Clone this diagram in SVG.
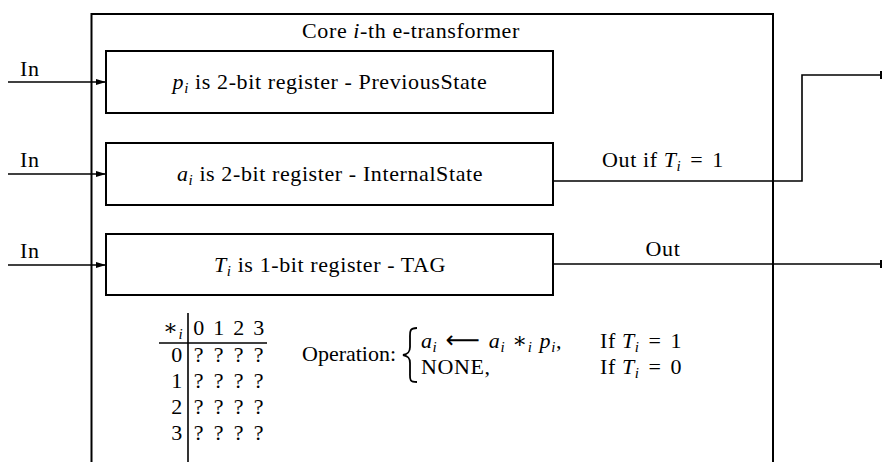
<svg xmlns="http://www.w3.org/2000/svg" width="883" height="462" viewBox="0 0 883 462">
  <defs>
    <marker id="arrow" markerWidth="10" markerHeight="8" refX="10" refY="4" orient="auto" markerUnits="userSpaceOnUse">
      <path d="M0,1 L10,4 L0,7 Z" fill="#000"/>
    </marker>
    <marker id="tick" markerWidth="4" markerHeight="10" refX="2" refY="5" orient="auto" markerUnits="userSpaceOnUse">
      <path d="M2,1 V9" stroke="#000" stroke-width="2"/>
    </marker>
  </defs>
  <style>
    text { font-family: "Liberation Serif", "DejaVu Serif", serif; font-size: 22px; letter-spacing: 0.6px; fill: #000; }
    .box { fill: none; stroke: #000; stroke-width: 2; }
    .wire { fill: none; stroke: #000; stroke-width: 1.6; }
    .rule { stroke: #000; stroke-width: 1.6; }
    .it { font-style: italic; }
    .sub { font-size: 15px; font-style: italic; }
    .sym { font-family: "DejaVu Sans", sans-serif; font-size: 24px; letter-spacing: 0; }
    .tight { letter-spacing: 0; }
    .mid { text-anchor: middle; }
    .cell { text-anchor: middle; }
  </style>
  <rect width="883" height="462" fill="#fff"/>

  <!-- outer container, open at the bottom -->
  <g id="core">
    <path class="box" d="M91.5,470 V14 H773 V470"/>
    <text class="mid" x="411" y="38">Core <tspan class="it">i</tspan>-th e-transformer</text>
  </g>

  <g id="reg-p">
    <rect class="box" x="106" y="51" width="447" height="62"/>
    <text class="mid" x="330" y="89"><tspan class="it">p</tspan><tspan class="sub" dy="4">i</tspan><tspan dy="-4"> is 2-bit register - PreviousState</tspan></text>
  </g>

  <g id="reg-a">
    <rect class="box" x="106" y="143" width="447" height="62"/>
    <text class="mid" x="330" y="181"><tspan class="it">a</tspan><tspan class="sub" dy="4">i</tspan><tspan dy="-4"> is 2-bit register - InternalState</tspan></text>
  </g>

  <g id="reg-t">
    <rect class="box" x="106" y="234" width="447" height="61"/>
    <text class="mid" x="330" y="272"><tspan class="it">T</tspan><tspan class="sub" dy="4">i</tspan><tspan dy="-4"> is 1-bit register - TAG</tspan></text>
  </g>

  <!-- wires -->
  <g id="connectors">
    <line class="wire" x1="8" y1="82" x2="106" y2="82" marker-end="url(#arrow)"/>
    <line class="wire" x1="8" y1="174" x2="106" y2="174" marker-end="url(#arrow)"/>
    <line class="wire" x1="8" y1="265" x2="106" y2="265" marker-end="url(#arrow)"/>
    <path class="wire" d="M553,181 H802 V75 H881" marker-end="url(#tick)"/>
    <line class="wire" x1="553" y1="264" x2="881" y2="264" marker-end="url(#tick)"/>
  </g>

  <g id="labels">
    <text x="20" y="76">In</text>
    <text x="20" y="167">In</text>
    <text x="20" y="258">In</text>
    <text class="mid" x="663" y="167">Out if <tspan class="it">T</tspan><tspan class="sub" dy="4">i</tspan><tspan dy="-4" dx="9">=</tspan><tspan dx="9">1</tspan></text>
    <text class="mid" x="663" y="256">Out</text>
  </g>

  <!-- operation table -->
  <g id="table">
    <line class="rule" x1="188" y1="313" x2="188" y2="462"/>
    <line class="rule" x1="159" y1="343" x2="267" y2="343"/>
    <text x="163" y="335">∗<tspan class="sub" dy="4">i</tspan></text>
    <g class="cell">
      <text x="199" y="335">0</text><text x="219" y="335">1</text><text x="239" y="335">2</text><text x="259" y="335">3</text>
      <text x="177" y="362">0</text><text x="177" y="388">1</text><text x="177" y="414">2</text><text x="177" y="440">3</text>
      <text x="199" y="362">?</text><text x="219" y="362">?</text><text x="239" y="362">?</text><text x="259" y="362">?</text>
      <text x="199" y="388">?</text><text x="219" y="388">?</text><text x="239" y="388">?</text><text x="259" y="388">?</text>
      <text x="199" y="414">?</text><text x="219" y="414">?</text><text x="239" y="414">?</text><text x="259" y="414">?</text>
      <text x="199" y="440">?</text><text x="219" y="440">?</text><text x="239" y="440">?</text><text x="259" y="440">?</text>
    </g>
  </g>

  <g id="operation">
    <text class="tight" x="302" y="361">Operation:</text>
    <path d="M417,328 C409,328 410,332 410,338 V347 C410,352 408,354 403,355 C408,356 410,358 410,363 V373 C410,379 409,382 417,382" fill="none" stroke="#000" stroke-width="1.8"/>
    <text x="421" y="348"><tspan class="it">a</tspan><tspan class="sub" dy="4">i</tspan><tspan class="sym" dy="-4" dx="8">⟵</tspan><tspan class="it" dx="9">a</tspan><tspan class="sub" dy="4">i</tspan><tspan dy="-4" dx="7">∗</tspan><tspan class="sub" dy="4">i</tspan><tspan class="it" dy="-4" dx="7">p</tspan><tspan class="sub" dy="4">i</tspan><tspan dy="-4">,</tspan></text>
    <text x="600" y="348">If <tspan class="it">T</tspan><tspan class="sub" dy="4">i</tspan><tspan dy="-4" dx="9">=</tspan><tspan dx="9">1</tspan></text>
    <text x="421" y="374">NONE,</text>
    <text x="600" y="374">If <tspan class="it">T</tspan><tspan class="sub" dy="4">i</tspan><tspan dy="-4" dx="9">=</tspan><tspan dx="9">0</tspan></text>
  </g>
</svg>
